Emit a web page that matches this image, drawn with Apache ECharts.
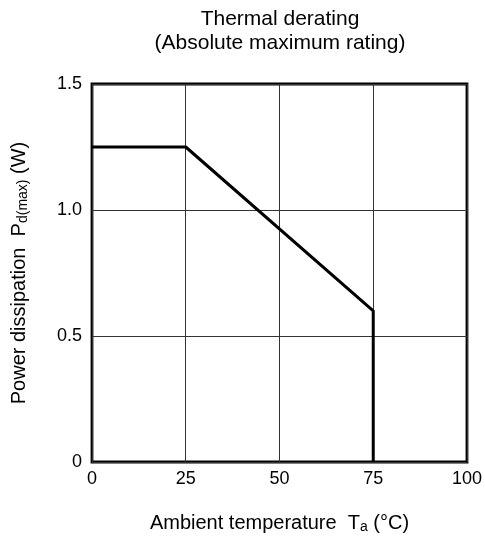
<!DOCTYPE html>
<html>
<head>
<meta charset="utf-8">
<script src="https://cdn.jsdelivr.net/npm/echarts@6/dist/echarts.min.js"></script>
<style>
html,body{margin:0;padding:0;background:#fff;}
#chart{width:485px;height:540px;}
</style>
</head>
<body>
<div id="chart"></div>
<script>
// Data
const temperatures = [0, 25, 75, 75];          // Ambient temperature Ta (°C)
const powerDissipation = [1.25, 1.25, 0.6, 0];  // Pd(max) (W)
const xTickLabels = ['0', '25', '50', '75', '100'];
const yTickLabels = ['0', '0.5', '1.0', '1.5'];
const titleLines = ['Thermal derating', '(Absolute maximum rating)'];

const FONT = '"Liberation Sans", Arial, Helvetica, sans-serif';
const chart = echarts.init(document.getElementById('chart'), null, {renderer: 'canvas'});

const seriesData = temperatures.map((t, i) => [t, powerDissipation[i]]);

const subRich = {
  sub: {fontSize: 14, fontFamily: FONT, color: '#000', verticalAlign: 'bottom', padding: [8, 0, 0, 0]}
};

chart.setOption({
  animation: false,
  backgroundColor: '#fff',
  graphic: [{
    type: 'text',
    x: 280,
    y: 7,
    style: {
      text: titleLines.join('\n'),
      fontFamily: FONT,
      fontSize: 21,
      lineHeight: 24,
      fill: '#000',
      align: 'center',
      verticalAlign: 'top'
    }
  }],
  grid: {
    left: 92, right: 17, top: 84, bottom: 78,
    show: true,
    borderColor: '#000',
    borderWidth: 2.8,
    backgroundColor: 'transparent'
  },
  xAxis: {
    type: 'value',
    min: 0, max: 100, interval: 25,
    name: 'Ambient temperature  T{sub|a} (°C)',
    nameLocation: 'middle',
    nameGap: 50,
    nameTextStyle: {fontFamily: FONT, fontSize: 20, color: '#000', rich: subRich},
    axisLine: {show: false},
    axisTick: {show: false},
    axisLabel: {
      fontFamily: FONT, fontSize: 18, color: '#000', margin: 8,
      formatter: (v, i) => xTickLabels[i]
    },
    splitLine: {show: true, lineStyle: {color: '#333', width: 1}}
  },
  yAxis: {
    type: 'value',
    min: 0, max: 1.5, interval: 0.5,
    name: 'Power dissipation  P{sub|d(max)} (W)',
    nameLocation: 'middle',
    nameGap: 62,
    nameTextStyle: {fontFamily: FONT, fontSize: 20, color: '#000', rich: subRich},
    axisLine: {show: false},
    axisTick: {show: false},
    axisLabel: {
      fontFamily: FONT, fontSize: 18, color: '#000', margin: 10,
      formatter: (v, i) => yTickLabels[i]
    },
    splitLine: {show: true, lineStyle: {color: '#333', width: 1}}
  },
  series: [{
    type: 'line',
    data: seriesData,
    showSymbol: false,
    symbol: 'none',
    clip: false,
    lineStyle: {color: '#000', width: 3},
    z: 3
  }]
});
</script>
</body>
</html>
